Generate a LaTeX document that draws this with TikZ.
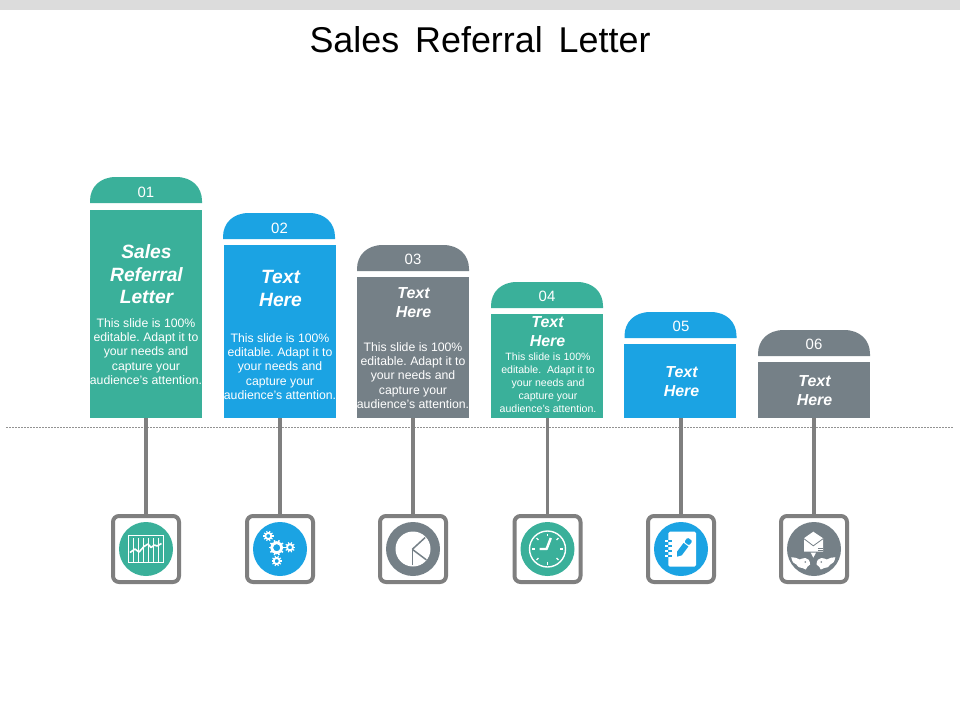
\documentclass[tikz,border=0pt]{standalone}
\usepackage{fontspec}
\setmainfont{Liberation Sans}
\frenchspacing
\definecolor{teal1}{HTML}{3AB09A}
\definecolor{blue1}{HTML}{1BA3E3}
\definecolor{grey1}{HTML}{758087}
\definecolor{stemgrey}{HTML}{7F7F7F}
\definecolor{topbar}{HTML}{DCDCDC}
\tikzset{
  bodybox/.style={rectangle,draw=none,fill=#1,minimum width=112bp,inner sep=0,outer sep=0,anchor=south},
  stemline/.style={draw=stemgrey,line width=3.4bp},
  iconbox/.style={rectangle,draw=stemgrey,fill=white,line width=4bp,minimum size=66bp,rounded corners=6bp,inner sep=0,outer sep=0},
  disk/.style={circle,fill=#1,minimum size=54bp,inner sep=0,outer sep=0},
  numtext/.style={text=white,inner sep=0,font=\fontsize{15}{18}\selectfont},
  headA/.style={text=white,inner sep=0,align=center,font=\fontsize{19.3}{22.6}\selectfont\bfseries\itshape},
  headB/.style={text=white,inner sep=0,align=center,font=\fontsize{16}{19}\selectfont\bfseries\itshape},
  bodyA/.style={text=white,inner sep=0,align=center,font=\fontsize{12.3}{14.3}\selectfont},
  bodyB/.style={text=white,inner sep=0,align=center,font=\fontsize{10.6}{13}\selectfont},
}
\newcommand{\capshape}[3]{%
  \begin{scope}[shift={(#1,#2)}]
    \fill[#3] (0,26) -- (0,24) .. controls (0,10) and (10,0) .. (26,0) -- (86,0)
      .. controls (102,0) and (112,10) .. (112,24) -- (112,26) -- cycle;
  \end{scope}}
\newcommand{\mygear}[5]{% x y radius ringwidth toothwidth
  \begin{scope}[shift={(#1,#2)}]
    \draw[white,line width=#4 bp] (0,0) circle (#3);
    \foreach \a in {0,36,...,324}{
      \draw[white,line width=#5 bp] (\a:#3) -- (\a:#3+#4*.5+1.3);
    }
  \end{scope}}
\begin{document}
\begin{tikzpicture}[x=1bp,y=-1bp]
\useasboundingbox (0,0) rectangle (960,720);
\fill[white] (0,0) rectangle (960,720);
\fill[topbar] (0,0) rectangle (960,10);
\node[inner sep=0,font=\fontsize{36}{40}\selectfont] (title) at (480,39.5) {Sales\hskip 16bp Referral\hskip 16bp Letter};

% guide line
\coordinate (gl) at (6,427.5);
\coordinate (gr) at (954,427.5);
\draw[draw=stemgrey!85,line width=.6bp,dash pattern=on 2bp off 1bp] (gl) -- (gr);

% caps
\capshape{90}{177}{teal1}
\capshape{223}{213}{blue1}
\capshape{357}{245}{grey1}
\capshape{491}{282}{teal1}
\capshape{624.5}{312}{blue1}
\capshape{758}{330}{grey1}

% bodies
\node[bodybox=teal1,minimum height=208bp] (body1) at (146,418) {};
\node[bodybox=blue1,minimum height=173bp] (body2) at (280,418) {};
\node[bodybox=grey1,minimum height=141bp] (body3) at (413,418) {};
\node[bodybox=teal1,minimum height=104bp] (body4) at (547,418) {};
\node[bodybox=blue1,minimum height=74bp] (body5) at (680,418) {};
\node[bodybox=grey1,minimum height=56bp] (body6) at (814,418) {};

% numbers
\node[numtext] (n1) at (146,192) {01};
\node[numtext] (n2) at (279.5,228) {02};
\node[numtext] (n3) at (413,259.5) {03};
\node[numtext] (n4) at (547,296) {04};
\node[numtext] (n5) at (681,326) {05};
\node[numtext] (n6) at (814,344) {06};

% headings
\node[headA] (h1) at (146.5,274.5) {Sales\\Referral\\Letter};
\node[headA] (h2) at (280.5,288.5) {Text\\Here};
\node[headB] (h3) at (413.5,302.5) {Text\\Here};
\node[headB] (h4) at (547.5,331.5) {Text\\Here};
\node[headB] (h5) at (681.5,381.5) {Text\\Here};
\node[headB] (h6) at (814.5,390.5) {Text\\Here};

% descriptions
\node[bodyA] (t1) at (146,351.5) {This slide is 100\%\\editable. Adapt it to\\your needs and\\capture your\\audience's attention.};
\node[bodyA] (t2) at (280,366.5) {This slide is 100\%\\editable. Adapt it to\\your needs and\\capture your\\audience's attention.};
\node[bodyA] (t3) at (413,375.5) {This slide is 100\%\\editable. Adapt it to\\your needs and\\capture your\\audience's attention.};
\node[bodyB] (t4) at (548,383) {This slide is 100\%\\editable.\ \ Adapt it to\\your needs and\\capture your\\audience's attention.};

% icon frames
\node[iconbox] (sq1) at (146,549) {};
\node[iconbox] (sq2) at (280,549) {};
\node[iconbox] (sq3) at (413,549) {};
\node[iconbox] (sq4) at (547.5,549) {};
\node[iconbox] (sq5) at (681,549) {};
\node[iconbox] (sq6) at (814,549) {};

% stems
\foreach \i in {1,...,6}{
  \draw[stemline] (sq\i.north |- body\i.south) -- (sq\i.north);
}

% disks
\node[disk=teal1] (d1) at (sq1.center) {};
\node[disk=blue1] (d2) at (sq2.center) {};
\node[disk=grey1] (d3) at (sq3.center) {};
\node[disk=teal1] (d4) at (sq4.center) {};
\node[disk=blue1] (d5) at (sq5.center) {};
\node[disk=grey1] (d6) at (sq6.center) {};

% icon 1: chart
\begin{scope}[shift={(146,549)}]
  \draw[white,line width=1.3bp] (-17.7,-13.3) rectangle (17.7,13.3);
  \foreach \x in {-12.5,-7.5,...,14}{
    \draw[white,line width=.9bp] (\x,-11) -- (\x,13.3);
  }
  \draw[white,line width=1.6bp,line join=round] (-16,3.5) -- (-11,0) -- (-7,3) -- (-2,-2.5) -- (2,-5) -- (5,-1.5) -- (8.5,-4) -- (11,-3) -- (15.5,-5.5);
\end{scope}

% icon 2: gears
\mygear{276.7}{547.7}{5.1}{2.8}{1.5}
\mygear{268.3}{536}{3}{1.8}{1.1}
\mygear{290}{547.3}{3}{1.8}{1.1}
\mygear{276.7}{561}{3}{1.8}{1.1}

% icon 3: pie
\begin{scope}[shift={(413,549)}]
  \fill[white] (0,0) circle (17.5);
  \draw[grey1,line width=1.5bp] (-.7,.3) -- (12.2,-11.5);
  \draw[grey1,line width=1.5bp] (-.7,.3) -- (-.7,16);
  \draw[grey1,line width=1.5bp] (-.7,.3) -- (13.3,10.8);
\end{scope}

% icon 4: clock
\begin{scope}[shift={(547.5,549)}]
  \draw[white,line width=1.4bp] (0,0) circle (18);
  \foreach \a in {0,45,...,315}{
    \draw[white,line width=1.2bp] (\a:12.8) -- (\a:15.5);
  }
  \draw[white,line width=2.4bp,line join=round] (3.3,-11) -- (-.9,0) -- (-8,0);
\end{scope}

% icon 5: notebook
\begin{scope}[shift={(681,549)}]
  \fill[white,rounded corners=1.5bp] (-12.7,-17.3) rectangle (15,17.7);
  \foreach \y in {-8,-3,2,7}{
    \draw[white,line width=1.1bp] (-16,\y) -- (-12.7,\y);
    \draw[blue1,line width=1.1bp] (-12.7,\y) -- (-9.5,\y);
  }
  \fill[blue1] (-4,7.7) -- (-4,2.7) -- (2.6,-6.1) -- (7.4,-2.5) -- (.8,6.3) -- cycle;
  \fill[blue1,rounded corners=1.2bp] (3.3,-7.1) -- (6.6,-11.5) -- (11.4,-7.9) -- (8.1,-3.5) -- cycle;
\end{scope}

% icon 6: envelope and birds
\begin{scope}[shift={(814,549)}]
  \fill[white] (-10,-10.8) -- (-.7,-17.3) -- (9,-10.8) -- (9,2.7) -- (-10,2.7) -- cycle;
  \draw[grey1,line width=.8bp] (-10,-10.2) -- (-.7,-3.2) -- (9,-10.2);
  \draw[grey1,line width=.7bp] (3.8,-.9) -- (9,-.9) (3.8,1) -- (9,1);
  \fill[white] (-3.3,3.7) -- (2,3.7) -- (-.7,8.7) -- cycle;
  \foreach \s in {1,-1}{
    \begin{scope}[shift={(-.7,0)},xscale=\s]
      \fill[white] (3.2,15.5) .. controls (3.2,11.5) and (5.5,9) .. (8,9)
        .. controls (10.5,9) and (12,10) .. (13.5,10.5)
        .. controls (16,9) and (19,8.2) .. (22,8.2)
        .. controls (21.5,12.5) and (19.5,15) .. (17,15.5)
        .. controls (16,18) and (13.5,19) .. (11,19)
        .. controls (9.5,19.2) and (8.5,20) .. (7.5,20.5)
        .. controls (7,18.5) and (5,16.5) .. (3.2,15.5) -- cycle;
      \fill[grey1] (8,13) circle (.9);
    \end{scope}
  }
\end{scope}
\end{tikzpicture}
\end{document}
